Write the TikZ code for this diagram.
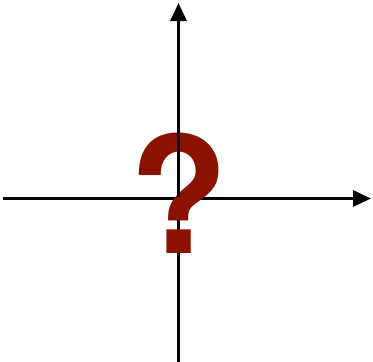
\documentclass[tikz,border=0pt]{standalone}
\usepackage{fontspec}
\setmainfont{TeX Gyre Heros}
\usetikzlibrary{arrows.meta}
\definecolor{qred}{RGB}{139,18,0}
\begin{document}
\begin{tikzpicture}[x=1pt,y=-1pt,
  axis/.style={line width=3.2pt,-{Triangle[length=18pt,width=16pt]}},
  axisplain/.style={line width=3.2pt}]
\useasboundingbox (0,0) rectangle (373,362);
\coordinate (xs) at (3,198.5);
\coordinate (xe) at (371,198.5);
\coordinate (ys) at (178.5,362);
\coordinate (ym) at (178.5,197);
\coordinate (ye) at (178.5,3);
\draw[axis] (xs) -- (xe);
\draw[axisplain] (ys) -- (ym);
\node[anchor=base,inner sep=0pt,text=qred,font=\fontsize{162}{162}\selectfont\bfseries] (q) at (179,253) {?};
\draw[axis] (ym) -- (ye);
\end{tikzpicture}
\end{document}
